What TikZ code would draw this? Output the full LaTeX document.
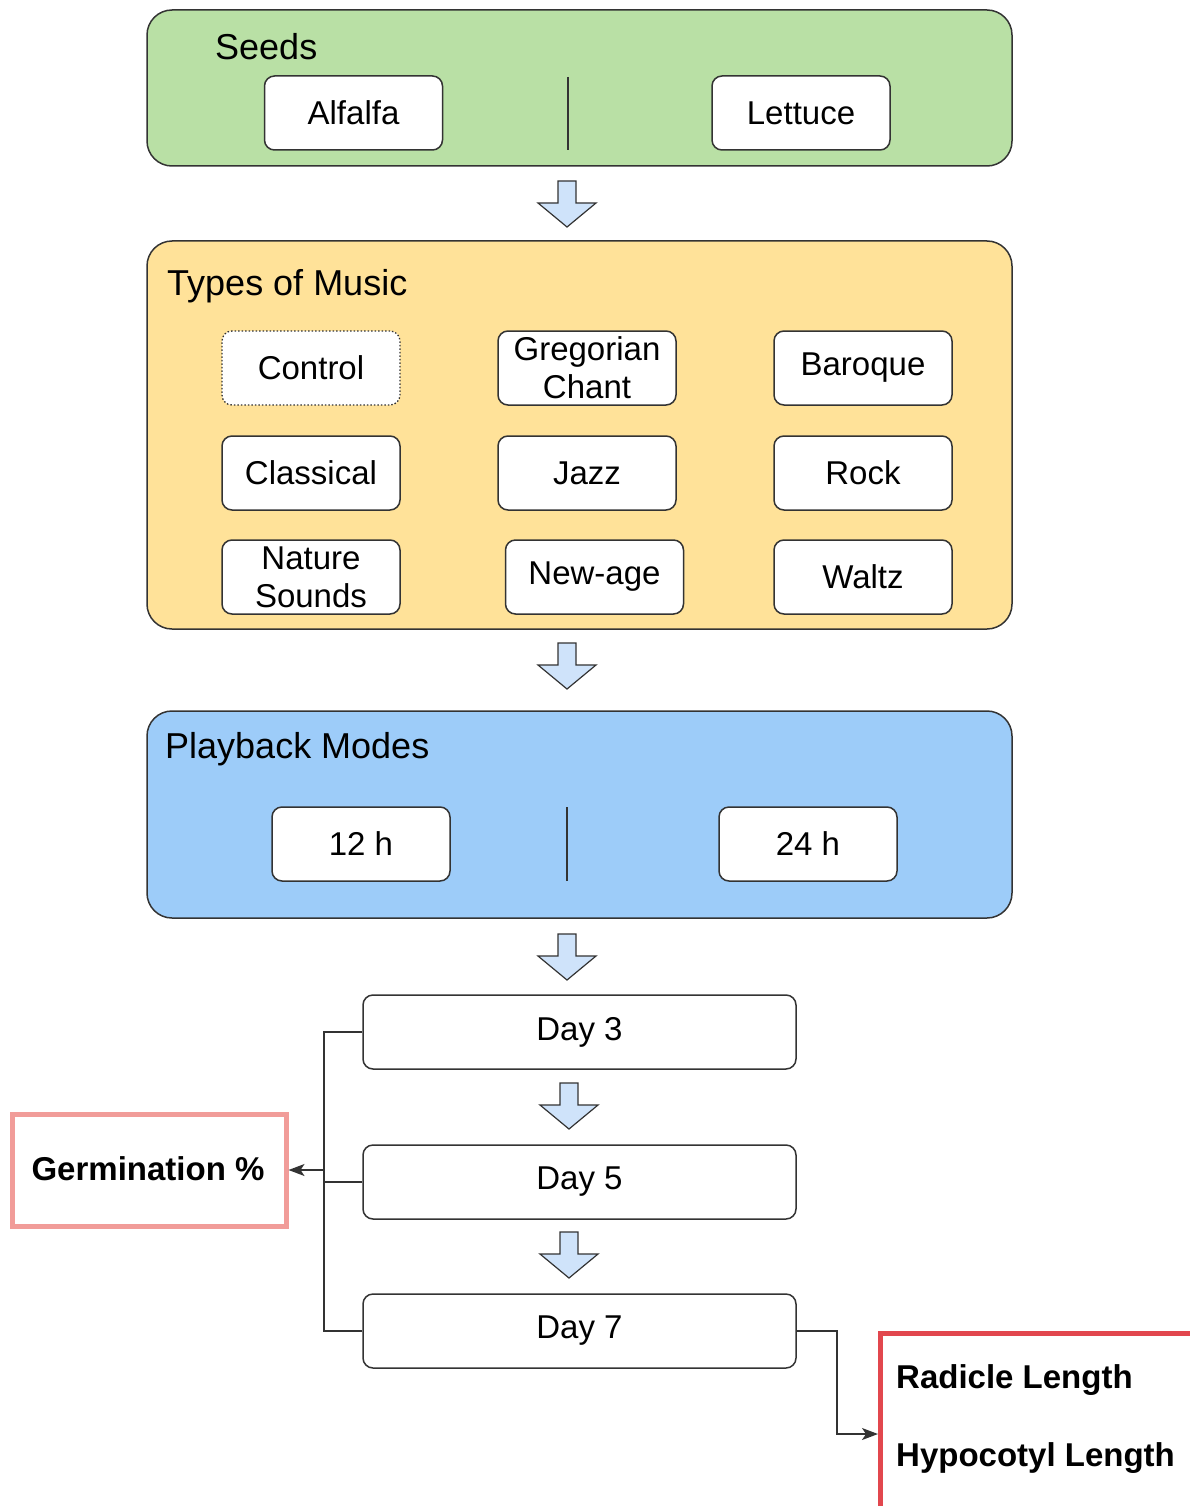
\documentclass[tikz,border=0pt]{standalone}
\usepackage{fontspec}
\setmainfont{Liberation Sans}
\usetikzlibrary{arrows.meta,positioning}
\definecolor{seedgreen}{HTML}{B9E0A5}
\definecolor{musicyellow}{HTML}{FFE299}
\definecolor{playblue}{HTML}{9DCCF9}
\definecolor{arrowblue}{HTML}{CFE3FA}
\definecolor{pinkred}{HTML}{F19C99}
\definecolor{strongred}{HTML}{E2474E}
\definecolor{edge}{HTML}{333333}
\newcommand{\bkarrow}[2]{%
  \draw[blockarr] (#1-9,#2) -- (#1+9,#2) -- (#1+9,#2+22) -- (#1+29,#2+22) -- (#1,#2+46) -- (#1-29,#2+22) -- (#1-9,#2+22) -- cycle;}
\tikzset{
  group/.style={draw=edge, line width=1.5pt, rounded corners=25pt},
  item/.style={draw=edge, fill=white, line width=1.5pt, rounded corners=10pt,
    minimum width=178pt, minimum height=74pt, inner sep=0pt, align=center,
    font=\fontsize{33}{38}\selectfont, text=black},
  dayitem/.style={item, minimum width=433pt},
  title/.style={anchor=west, font=\fontsize{36}{40}\selectfont, inner sep=0pt},
  blockarr/.style={draw=edge, fill=arrowblue, line width=1.2pt, line join=miter},
  conn/.style={draw=edge, line width=1.4pt},
  tip/.style={-{Stealth[length=16pt,width=12pt,inset=4pt]}},
  measure/.style={draw, fill=white, line width=5pt},
  bold/.style={font=\fontsize{33}{38}\selectfont\bfseries, inner sep=0pt}
}
\begin{document}
\begin{tikzpicture}[x=1pt,y=-1pt]
\useasboundingbox (0,0) rectangle (1190,1506);
\clip (0,0) rectangle (1190,1506);
% Seeds
\draw[group, fill=seedgreen] (147,10) rectangle (1012,166);
\node[title] (seedstitle) at (215,47) {Seeds};
\node[item] (alfalfa) at (353.5,113) {Alfalfa};
\node[item] (lettuce) at (801,113) {Lettuce};
\draw[conn] (568,77) -- (568,150);
\bkarrow{567}{181}
% Music
\draw[group, fill=musicyellow] (147,241) rectangle (1012,629);
\node[title] (musictitle) at (167,286) {Types of Music};
\node[item, dotted, line width=1.3pt] (control) at (311,368) {Control};
\node[item] (gregorian) at (587,368) {Gregorian\\Chant};
\node[item] (baroque) at (863,368) {Baroque};
\node[item] (classical) at (311,473) {Classical};
\node[item] (jazz) at (587,473) {Jazz};
\node[item] (rock) at (863,473) {Rock};
\node[item] (nature) at (311,577) {Nature\\Sounds};
\node[item] (newage) at (594.5,577) {New-age};
\node[item] (waltz) at (863,577) {Waltz};
\bkarrow{567}{643}
% Playback
\draw[group, fill=playblue] (147,711) rectangle (1012,918);
\node[title] (playtitle) at (165,749) {Playback Modes};
\node[item] (h12) at (361,844) {12 h};
\node[item] (h24) at (808,844) {24 h};
\draw[conn] (567,807) -- (567,881);
\bkarrow{567}{934}
% Days
\node[dayitem] (day3) at (579.5,1032) {Day 3};
\node[dayitem] (day5) at (579.5,1182) {Day 5};
\node[dayitem] (day7) at (579.5,1331) {Day 7};
\bkarrow{569}{1083}
\bkarrow{569}{1232}
% Germination
\node[measure, draw=pinkred, minimum width=274pt, minimum height=112pt] (germ) at (149,1170) {};
\node[bold] (germtext) at (148,1169) {Germination \%};
\coordinate (bus) at (324,1170);
\draw[conn] (day3.west) -- (324,1032) -- (324,1331) -- (day7.west);
\draw[conn] (day5.west) -- (324,1182);
\draw[conn, tip] (bus) -- (germ.east);
% Radicle / Hypocotyl
\node[measure, draw=strongred, anchor=north west, minimum width=340pt, minimum height=200pt] (lengths) at (878,1331) {};
\node[bold, anchor=west] (radicle) at (896,1380) {Radicle Length};
\node[bold, anchor=west] (hypocotyl) at (896,1458) {Hypocotyl Length};
\coordinate (turn) at (837,1331);
\draw[conn, tip] (day7.east) -- (turn) |- (lengths.west |- 0,1434);
\end{tikzpicture}
\end{document}
